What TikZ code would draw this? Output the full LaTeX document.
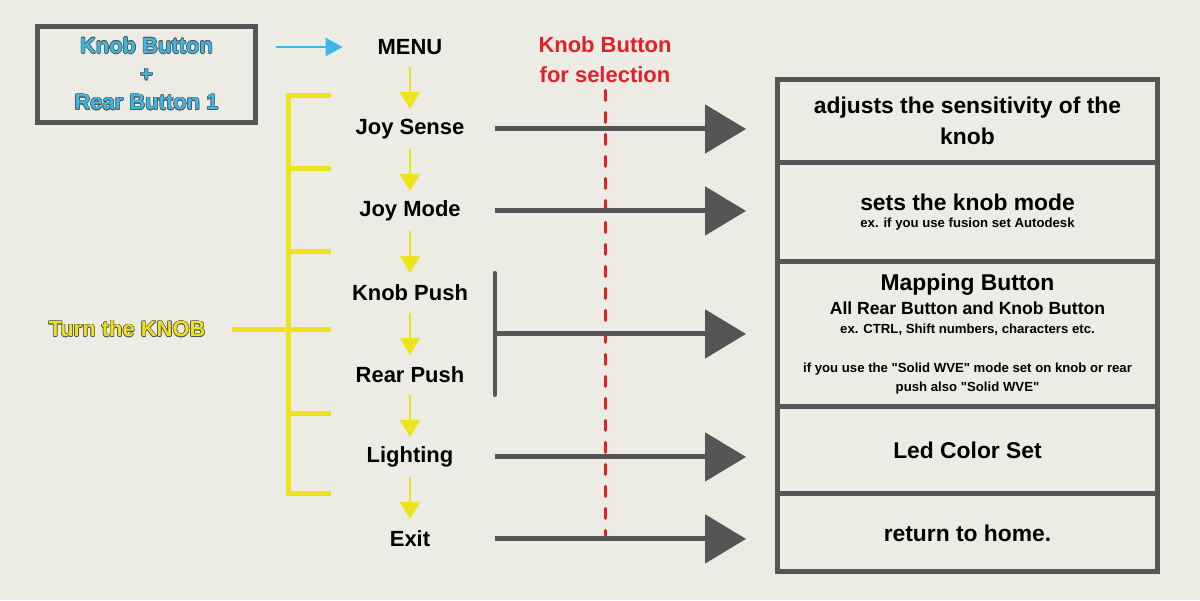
\documentclass[tikz,border=0pt]{standalone}
\usepackage{fontspec}
\setmainfont{Liberation Sans}
\newfontfamily\qfont{Liberation Sans}
\usepackage{contour}
\usetikzlibrary{positioning}
\usetikzlibrary{arrows.meta}
\usetikzlibrary{calc}
\definecolor{bgpaper}{RGB}{236,235,228}
\definecolor{dgray}{RGB}{85,85,85}
\definecolor{kyellow}{RGB}{237,226,30}
\definecolor{kblue}{RGB}{59,183,232}
\definecolor{kred}{RGB}{227,32,42}
\contourlength{0.3pt}
\newcommand\dq{{\qfont\bfseries"}}

\begin{document}
\begin{tikzpicture}[x=0.02cm,y=-0.02cm,node distance=0.84cm,
menuitem/.style={font=\fontsize{12.5}{15}\selectfont\bfseries,minimum height=0.8cm,inner sep=0pt,outer sep=0pt},
wide/.style={minimum width=3.4cm},
infobox/.style={draw=dgray,line width=0.1cm,minimum width=7.62cm,inner sep=0pt,outer sep=0pt,align=center,font=\fontsize{13}{17.5}\selectfont\bfseries},
down/.style={draw=kyellow,line width=0.04cm,-{Triangle[length=0.34cm,width=0.4cm]}},
toinfo/.style={draw=dgray,line width=0.1cm,-{Triangle[length=0.82cm,width=0.96cm]},shorten >=0.62cm},
bracket/.style={draw=kyellow,line width=0.1cm}]
\useasboundingbox (0,0) rectangle (1200,600);
\fill[bgpaper] (0,0) rectangle (1200,600);

%key combination
\node[draw=dgray,line width=0.1cm,minimum width=4.38cm,minimum height=1.92cm,outer sep=0pt,
  align=center,font=\fontsize{12.5}{16}\selectfont\bfseries,text=kblue] (combo) at (146.5,74)
  {\contour{dgray}{Knob Button}\\\contour{dgray}{+}\\\contour{dgray}{Rear Button 1}};

%menu column
\node[menuitem] (menu) at (410,47) {MENU};
\node[menuitem,wide,below=of menu] (jsense) {Joy Sense};
\node[menuitem,wide,below=of jsense] (jmode) {Joy Mode};
\node[menuitem,wide,below=of jmode] (kpush) {Knob Push};
\node[menuitem,wide,below=of kpush] (rpush) {Rear Push};
\node[menuitem,wide,below=of rpush] (light) {Lighting};
\node[menuitem,wide,below=of light] (exit) {Exit};
\draw[kblue,line width=0.04cm,-{Triangle[length=0.34cm,width=0.36cm]},shorten <=0.4cm,shorten >=0.7cm] (menu -| combo.east) -- (menu);
\foreach\a/\b in {menu/jsense,jsense/jmode,jmode/kpush,kpush/rpush,rpush/light,light/exit}{
	\draw[down] (\a) -- (\b);}

%turn the knob
\node[font=\fontsize{12.5}{15}\selectfont\bfseries,text=kyellow] (turn) at (127,329) {\contour{dgray}{Turn the KNOB}};
\coordinate (spine) at (288,329);
\draw[bracket] (331,95) -- (288,95) -- (288,493) -- (331,493);
\foreach\y in {168,251,329,413}{
	\draw[bracket] (288,\y) -- (331,\y);}
\draw[bracket,shorten <=0.4cm] (turn.east) -- (spine);

%selection
\node[font=\fontsize{12.5}{17}\selectfont\bfseries,text=kred,align=center,inner sep=2pt] (sel) at (605,60) {Knob Button\\for selection};
\draw[kred,line width=0.06cm,line cap=round,dash pattern=on 0.2cm off 0.24cm,shorten <=2pt] (sel.south) -- (sel.south |- exit.center);

%info boxes
\node[infobox,minimum height=1.66cm] (box1) at (967.5,120.5) {adjusts the sensitivity of the\\knob};
\node[infobox,minimum height=2cm,below=0cm of box1] (box2) {sets the knob mode\\[-7.5pt]{\fontsize{7.5}{9}\selectfont ex. if you use fusion set Autodesk}};
\node[infobox,minimum height=2.9cm,below=0cm of box2] (box3) {\fontsize{13}{14}\selectfont Mapping Button\\[-4pt]
	{\fontsize{10}{12}\selectfont All Rear Button and Knob Button}\\[-7pt]
	{\fontsize{7.5}{11}\selectfont ex. CTRL, Shift numbers, characters etc.}\\[5pt]
	{\fontsize{7.5}{11}\selectfont if you use the \dq Solid WVE\dq{} mode set on knob or rear}\\[-6.5pt]
	{\fontsize{7.5}{11}\selectfont push also \dq Solid WVE\dq}};
\node[infobox,minimum height=1.74cm,below=0cm of box3] (box4) {Led Color Set};
\node[infobox,minimum height=1.56cm,below=0cm of box4] (box5) {return to home.};

%arrows to the boxes
\foreach\m/\b in {jsense/box1,jmode/box2,light/box4,exit/box5}{
	\draw[toinfo] (\m.east) -- (\m.east -| \b.west);}
\draw[dgray,line width=0.08cm,line cap=round] (kpush.north east) -- (rpush.south east);
\coordinate (kr) at ($(kpush.east)!0.5!(rpush.east)$);
\draw[toinfo] (kr) -- (kr -| box3.west);
\end{tikzpicture}
\end{document}
